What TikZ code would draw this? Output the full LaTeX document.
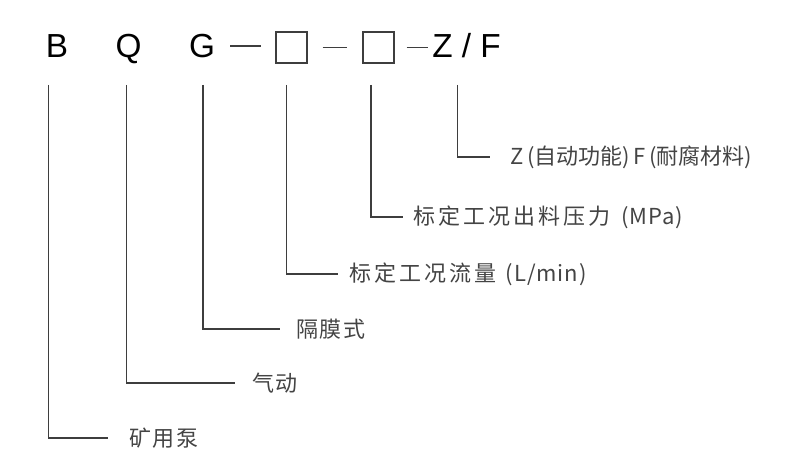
\documentclass[tikz,border=0pt]{standalone}
\usepackage{fontspec}
\setmainfont{Liberation Sans}
\newfontfamily\cjk{Noto Sans CJK SC}[LetterSpace=7]
\newfontfamily\cjkwide{Noto Sans CJK SC}[LetterSpace=14]
\newfontfamily\cjktight{Noto Sans CJK SC}[LetterSpace=0]
\newfontfamily\cjklat{Noto Sans CJK SC}[LetterSpace=4]
\usepackage{tikz}
\definecolor{inkgray}{RGB}{62,62,62}
\definecolor{txtgray}{RGB}{68,68,68}

\begin{document}
\begin{tikzpicture}[x=0.75pt,y=0.75pt,yscale=-1,xscale=1,
  code/.style={anchor=base,inner sep=0.75pt,font=\fontsize{25}{30}\selectfont,text=black},
  slot/.style={draw=inkgray,line width=0.8pt,minimum size=23.25pt,inner sep=0pt},
  lbl/.style={anchor=west,inner sep=0.75pt,text=txtgray,font=\cjk\fontsize{16.5}{19}\selectfont},
  lead/.style={draw=inkgray,line width=0.8pt}]
\useasboundingbox (0,0) rectangle (790,473);

% Text Node
\node [code] (B) at (57,57.5) {B};
% Text Node
\node [code] (Q) at (128.5,57.5) {Q};
% Text Node
\node [code] (G) at (202,57.5) {G};
% Text Node
\node [code,anchor=base west] (ZF) at (431,57.5) {Z / F};
%Shape: Square
\node [slot] (S1) at (291.5,47.5) {};
%Shape: Square
\node [slot] (S2) at (378.5,47.5) {};

%Straight Lines
\draw [lead,shorten <=10.5pt,shorten >=10.5pt] (G.east) -- (G.east -| S1.west) ;
%Straight Lines
\draw [lead,shorten <=11.25pt,shorten >=11.25pt] (S1.east) -- (S1.east -| S2.west) ;
%Straight Lines
\draw [lead,shorten <=9pt,shorten >=2.25pt] (S2.east) -- (S2.east -| ZF.west) ;

% Text Node
\node [lbl] (lB) at (128,438) {矿用泵};
% Text Node
\node [lbl] (lQ) at (251,383) {气动};
% Text Node
\node [lbl] (lG) at (295,329) {隔膜式};
% Text Node
\node [lbl,font=\cjkwide\fontsize{16.5}{19}\selectfont] (lS1) at (348,274) {标定工况流量\hspace{7pt}{\cjklat (L/min)}};
% Text Node
\node [lbl,font=\cjkwide\fontsize{16.5}{19}\selectfont] (lS2) at (412,217) {标定工况出料压力\hspace{8pt}{\cjklat (MPa)}};
% Text Node
\node [lbl,font=\cjktight\fontsize{16.5}{19}\selectfont] (lZF) at (509,157) {Z\,(自动功能)\,F\,(耐腐材料)};

\coordinate (tB) at (48.5,85);
\coordinate (tQ) at (126.5,85);
\coordinate (tG) at (203,85);
\coordinate (tS1) at (286.5,85);
\coordinate (tS2) at (371,85);
\coordinate (tZF) at (457.5,85);

%Straight Lines
\draw [lead,shorten >=15pt] (tB) |- (lB.west) ;
%Straight Lines
\draw [lead,shorten >=12pt] (tQ) |- (lQ.west) ;
%Straight Lines
\draw [lead,shorten >=11.25pt] (tG) |- (lG.west) ;
%Straight Lines
\draw [lead,shorten >=7.5pt] (tS1) |- (lS1.west) ;
%Straight Lines
\draw [lead,shorten >=6.75pt] (tS2) |- (lS2.west) ;
%Straight Lines
\draw [lead,shorten >=14.25pt] (tZF) |- (lZF.west) ;

\end{tikzpicture}
\end{document}
